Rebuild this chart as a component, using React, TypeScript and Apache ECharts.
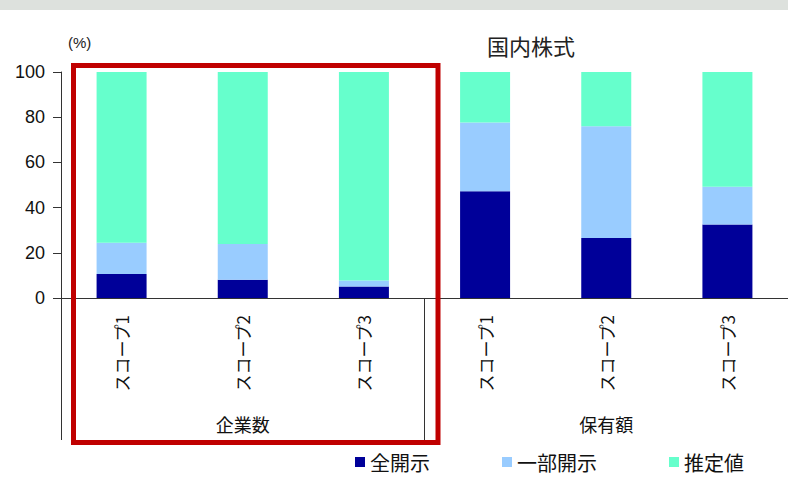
import React, { useEffect, useRef } from "react";
import * as echarts from "echarts";

const categories = ["スコープ1", "スコープ2", "スコープ3", "スコープ1", "スコープ2", "スコープ3"];
const groups = ["企業数", "保有額"];
const fullDisclosure = [10.6, 8.1, 5.1, 47.2, 26.6, 32.5];
const partialDisclosure = [13.9, 15.8, 2.6, 30.4, 49.4, 16.7];
const estimated = [75.5, 76.1, 92.3, 22.4, 24.0, 50.8];
const seriesNames = ["全開示", "一部開示", "推定値"];
const yTicks = { min: 0, max: 100, interval: 20 };
const titleText = "国内株式";
const unitText = "(%)";

const colors = ["#000099", "#99ccff", "#66ffcc"];
const cjk = '"Noto Sans CJK JP", "Noto Sans", sans-serif';
const latin = '"Liberation Sans", Arial, sans-serif';

export default function App() {
  const ref = useRef<HTMLDivElement>(null);
  useEffect(() => {
    if (!ref.current) return;
    const chart = echarts.init(ref.current, null, { renderer: "svg" });
    const data = [fullDisclosure, partialDisclosure, estimated];
    chart.setOption({
      animation: false,
      backgroundColor: "#ffffff",
      title: {
        text: titleText,
        left: 487,
        top: 34,
        padding: 0,
        textStyle: { fontFamily: cjk, fontSize: 22, fontWeight: "normal", color: "#222" },
      },
      legend: {
        left: 355,
        top: 452,
        padding: 0,
        itemWidth: 10,
        itemHeight: 10,
        itemGap: 72,
        icon: "rect",
        textStyle: { fontFamily: cjk, fontSize: 20, lineHeight: 20, color: "#111" },
        data: seriesNames,
      },
      grid: { left: 61, top: 72, width: 733, height: 226, containLabel: false },
      xAxis: [
        {
          type: "category",
          data: categories,
          position: "bottom",
          axisLine: { show: true, lineStyle: { color: "#333", width: 1 } },
          axisTick: { show: false },
          axisLabel: {
            rotate: 90,
            margin: 17,
            interval: 0,
            fontFamily: cjk,
            fontSize: 17,
            color: "#111",
          },
        },
        {
          type: "category",
          data: groups,
          position: "bottom",
          axisLine: { show: false },
          axisTick: { show: true, length: 142, lineStyle: { color: "#333", width: 1 } },
          axisLabel: {
            margin: 117,
            interval: 0,
            fontFamily: cjk,
            fontSize: 18,
            color: "#111",
          },
        },
      ],
      yAxis: {
        type: "value",
        min: yTicks.min,
        max: yTicks.max,
        interval: yTicks.interval,
        axisLine: { show: true, lineStyle: { color: "#333", width: 1 } },
        axisTick: { show: true, length: 8, lineStyle: { color: "#333" } },
        splitLine: { show: false },
        axisLabel: { margin: 16, fontFamily: latin, fontSize: 18, color: "#111" },
      },
      series: seriesNames.map((name, i) => ({
        name,
        type: "bar",
        stack: "total",
        barWidth: 50,
        xAxisIndex: 0,
        itemStyle: { color: colors[i] },
        data: data[i],
      })),
      graphic: [
        {
          type: "rect",
          shape: { x: 0, y: 0, width: 788, height: 10 },
          style: { fill: "#dde1dd" },
          silent: true,
        },
        {
          type: "text",
          x: 68,
          y: 35,
          style: { text: unitText, fontFamily: latin, fontSize: 15, fill: "#222" },
        },
        {
          type: "rect",
          z: 100,
          shape: { x: 73.5, y: 65.5, width: 364.5, height: 377 },
          style: { fill: "none", stroke: "#c00000", lineWidth: 5 },
          silent: true,
        },
      ],
    });
    return () => chart.dispose();
  }, []);
  return (
    <div
      ref={ref}
      style={{ position: "fixed", left: 0, top: 0, width: 788, height: 477 }}
    />
  );
}
